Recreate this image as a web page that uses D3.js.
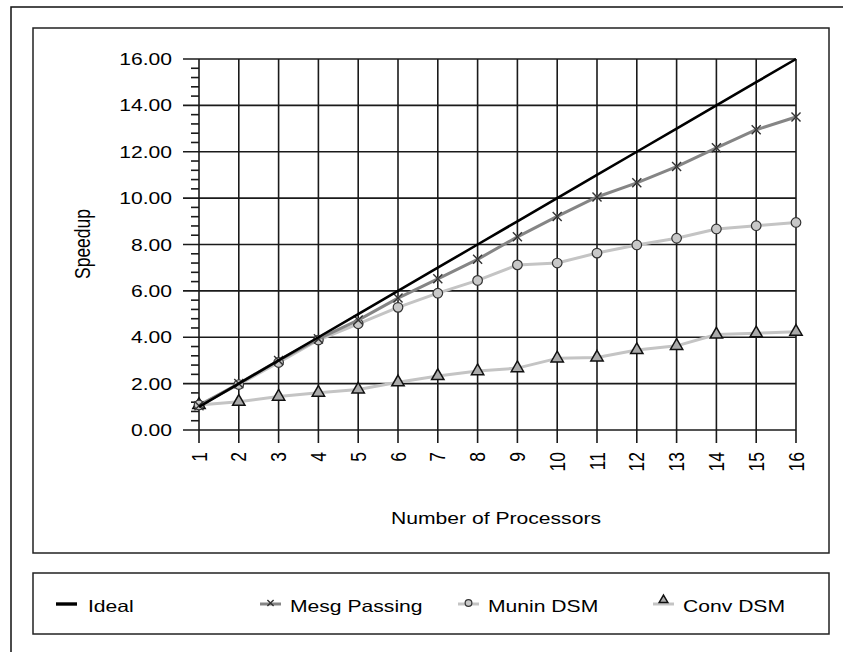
<!DOCTYPE html>
<html>
<head>
<meta charset="utf-8">
<script src="https://cdn.jsdelivr.net/npm/d3@7"></script>
<style>
  body { margin: 0; background: #fff; }
  text { font-family: Arial, "Liberation Sans", sans-serif; fill: #000; }
</style>
</head>
<body>
<div id="chart"></div>
<script>
// data
let procs = [1, 2, 3, 4, 5, 6, 7, 8, 9, 10, 11, 12, 13, 14, 15, 16];
let ideal = [1, 2, 3, 4, 5, 6, 7, 8, 9, 10, 11, 12, 13, 14, 15, 16];
let mesgPassing = [1.05, 2.0, 3.0, 3.93, 4.74, 5.69, 6.52, 7.36, 8.33, 9.21, 10.05, 10.66, 11.36, 12.17, 12.95, 13.5];
let muninDSM = [1.08, 1.96, 2.91, 3.88, 4.58, 5.29, 5.9, 6.45, 7.12, 7.2, 7.63, 7.98, 8.27, 8.67, 8.81, 8.95];
let convDSM = [1.08, 1.22, 1.44, 1.61, 1.75, 2.06, 2.33, 2.54, 2.67, 3.09, 3.13, 3.45, 3.63, 4.12, 4.17, 4.24];
let yTicks = [0, 2, 4, 6, 8, 10, 12, 14, 16];
let seriesNames = ['Ideal', 'Mesg Passing', 'Munin DSM', 'Conv DSM'];

let width = 843;
let height = 652;
let fontSize = 16.5;
let stretch = 1.28; // text in the picture is widened horizontally

let svg = d3.select('#chart')
  .append('svg')
  .attr('width', width)
  .attr('height', height);

let x = d3.scaleLinear().domain([1, 16]).range([199, 796]);
let y = d3.scaleLinear().domain([0, 16]).range([430, 59]);

// frames
svg.append('rect')
  .attr('x', 11).attr('y', 7).attr('width', 900).attr('height', 700)
  .attr('fill', 'none').attr('stroke', '#111').attr('stroke-width', 1.5);
svg.append('rect')
  .attr('x', 33).attr('y', 28).attr('width', 796).attr('height', 525)
  .attr('fill', 'none').attr('stroke', '#222').attr('stroke-width', 1.5);
svg.append('rect')
  .attr('x', 33).attr('y', 573).attr('width', 796).attr('height', 61)
  .attr('fill', 'none').attr('stroke', '#222').attr('stroke-width', 1.5);

function label(g, str, tx, ty, anchor, rotate, size) {
  return g.append('text')
    .attr('transform', 'translate(' + tx + ',' + ty + ') scale(' + stretch + ',1)' + (rotate ? ' rotate(-90)' : ''))
    .attr('text-anchor', anchor)
    .style('font-size', (size || fontSize) + 'px')
    .text(str);
}

// grid
let grid = svg.append('g').attr('stroke', '#1a1a1a').attr('stroke-width', 1.6);
grid.selectAll('line.v')
  .data(procs)
  .enter()
  .append('line')
  .attr('x1', d => x(d)).attr('x2', d => x(d))
  .attr('y1', y(16)).attr('y2', y(0) + 13);
grid.selectAll('line.h')
  .data(yTicks)
  .enter()
  .append('line')
  .attr('x1', x(1) - 16).attr('x2', x(16))
  .attr('y1', d => y(d)).attr('y2', d => y(d));
let minor = d3.range(0, 16.01, 0.4).filter(d => Math.abs(d / 2 - Math.round(d / 2)) > 0.01);
grid.selectAll('line.m')
  .data(minor)
  .enter()
  .append('line')
  .attr('x1', x(1) - 8).attr('x2', x(1))
  .attr('y1', d => y(d)).attr('y2', d => y(d));

// tick labels
let labels = svg.append('g');
yTicks.forEach(function(t) {
  label(labels, d3.format('.2f')(t), 172, y(t) + 6, 'end', false);
});
procs.forEach(function(p) {
  label(labels, p, x(p) + 7.5, 452, 'end', true, 17.5);
});
label(labels, 'Number of Processors', 496, 524, 'middle', false);
label(labels, 'Speedup', 90, 244, 'middle', true, 17.5);

// series
let line = d3.line().x(d => x(d[0])).y(d => y(d[1]));
let series = [
  { name: 'Conv DSM', values: convDSM, color: '#c4c4c4', width: 3, marker: 'triangle' },
  { name: 'Munin DSM', values: muninDSM, color: '#c4c4c4', width: 3, marker: 'circle' },
  { name: 'Mesg Passing', values: mesgPassing, color: '#858585', width: 3, marker: 'x' },
  { name: 'Ideal', values: ideal, color: '#000', width: 2.6, marker: null }
];

function drawMarker(g, type, cx, cy, scale) {
  if (type === 'circle') {
    g.append('circle').attr('cx', cx).attr('cy', cy).attr('r', 4.8 * scale)
      .attr('fill', '#c8c8c8').attr('stroke', '#333').attr('stroke-width', 1.2);
  } else if (type === 'triangle') {
    g.append('path').attr('d', d3.symbol(d3.symbolTriangle, 66 * scale * scale)())
      .attr('transform', 'translate(' + cx + ',' + cy + ')')
      .attr('fill', '#aaaaaa').attr('stroke', '#111').attr('stroke-width', 1.5);
  } else if (type === 'x') {
    g.append('path').attr('d', d3.symbol(d3.symbolX, 55 * scale * scale)())
      .attr('transform', 'translate(' + cx + ',' + cy + ')')
      .attr('fill', 'none').attr('stroke', '#333').attr('stroke-width', 1.4);
  }
}

series.forEach(function(s) {
  let pts = procs.map((p, i) => [p, s.values[i]]);
  let g = svg.append('g');
  g.append('path')
    .attr('d', line(pts))
    .attr('fill', 'none')
    .attr('stroke', s.color)
    .attr('stroke-width', s.width)
    .attr('stroke-linejoin', 'round');
  if (s.marker) {
    pts.forEach(function(d) {
      drawMarker(g, s.marker, x(d[0]), y(d[1]), 1);
    });
  }
});

// legend
let legendItems = [
  { name: 'Ideal', lx: 56, color: '#000', width: 3.4, marker: null },
  { name: 'Mesg Passing', lx: 260, color: '#858585', width: 3, marker: 'x' },
  { name: 'Munin DSM', lx: 458, color: '#c4c4c4', width: 3, marker: 'circle' },
  { name: 'Conv DSM', lx: 653, color: '#c4c4c4', width: 3, marker: 'triangle' }
];
let legend = svg.append('g');
legendItems.forEach(function(item) {
  legend.append('line')
    .attr('x1', item.lx).attr('x2', item.lx + 21)
    .attr('y1', 604).attr('y2', 604)
    .attr('stroke', item.color).attr('stroke-width', item.width);
  if (item.marker) {
    drawMarker(legend, item.marker, item.lx + 10.5, item.marker === 'triangle' ? 600 : 603, 0.7);
  }
  label(legend, item.name, item.lx + (item.marker ? 30 : 32), 612, 'start', false);
});
</script>
</body>
</html>
